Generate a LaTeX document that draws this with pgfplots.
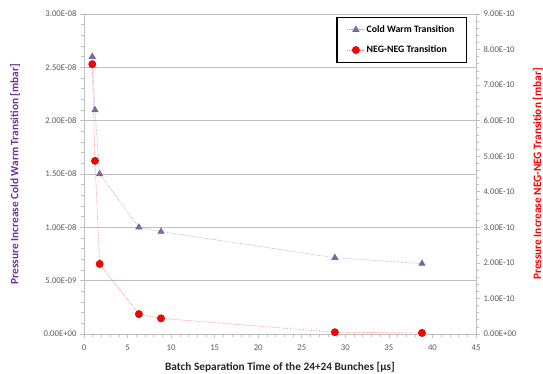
\documentclass[border=0pt]{standalone}
\usepackage{fontspec}
\setmainfont{Carlito}
\usepackage{pgfplots}
\pgfplotsset{compat=1.18}
\definecolor{cwline}{HTML}{A898C8}
\definecolor{cwmark}{HTML}{8064A2}
\definecolor{cwlabel}{HTML}{7030A0}
\definecolor{negline}{HTML}{FF6F6F}
\definecolor{gridgray}{HTML}{BFBFBF}
\definecolor{ticktext}{HTML}{595959}
\begin{document}
\begin{tikzpicture}
\pgfplotsset{
 common/.style={scale only axis, width=392pt, height=320pt, xmin=0, xmax=45, ymin=0,
   tick label style={font=\fontsize{8.7}{10}\selectfont, color=ticktext},
   /pgf/number format/assume math mode=true,
   scaled y ticks=false,
   tick style={gridgray, line width=0.6pt}, major tick length=4pt, minor tick length=3pt,
   tick align=outside, minor y tick num=4,
   axis line style={gridgray, line width=0.8pt}},
}
\begin{axis}[common, axis x line*=bottom, axis y line*=left,
  ymax=3e-8,
  xtick={0,5,...,45}, minor x tick num=4,
  xticklabel style={yshift=-3pt},
  ytick={0,5e-9,1e-8,1.5e-8,2e-8,2.5e-8,3e-8},
  yticklabels={0.00E+00,5.00E-09,1.00E-08,1.50E-08,2.00E-08,2.50E-08,3.00E-08},
  ymajorgrids, major grid style={gridgray, line width=0.6pt},
  xlabel={\bfseries Batch Separation Time of the 24+24 Bunches [µs]},
  xlabel style={at={(axis description cs:0.5,0)}, anchor=center, yshift=-33.7pt, font=\fontsize{11.3}{13}\selectfont, color=black!85},
  ylabel={\bfseries Pressure Increase Cold Warm Transition [mbar]},
  ylabel style={at={(axis description cs:-0.176,0.5)}, anchor=center, font=\fontsize{11.3}{13}\selectfont, color=cwlabel},
  legend style={at={(rel axis cs:0.977,0.991)}, anchor=north east, draw=black, line width=1.2pt,
    font=\bfseries\fontsize{9.8}{11}\selectfont, inner xsep=10pt, inner ysep=6pt, row sep=8pt},
  legend cell align=left,
]
\addplot[color=cwline, densely dotted, line width=0.6pt, mark=triangle*, mark size=3.6pt,
  mark options={solid, fill=cwmark, draw=cwmark}] coordinates {
  (0.95,2.6e-8) (1.26,2.1e-8) (1.8,1.5e-8) (6.3,1.0e-8) (8.84,0.96e-8) (28.8,7.15e-9) (38.8,6.6e-9)};
\addlegendentry{Cold Warm Transition}
\addlegendimage{color=negline, densely dotted, line width=0.6pt, mark=*, mark size=3.6pt,
  mark options={solid, fill=red, draw=red!85!black}}
\addlegendentry{NEG-NEG Transition}
\end{axis}
\begin{axis}[common, axis x line=none, axis y line*=right,
  ymax=9e-10,
  ytick={0,1e-10,2e-10,3e-10,4e-10,5e-10,6e-10,7e-10,8e-10,9e-10},
  yticklabels={0.00E+00,1.00E-10,2.00E-10,3.00E-10,4.00E-10,5.00E-10,6.00E-10,7.00E-10,8.00E-10,9.00E-10},
  ylabel={\bfseries Pressure Increase NEG-NEG Transition [mbar]},
  ylabel style={at={(axis description cs:1.158,0.5)}, anchor=center, rotate=0, font=\fontsize{11.3}{13}\selectfont, color=red},
]
\addplot[color=negline, densely dotted, line width=0.6pt, mark=*, mark size=3.6pt,
  mark options={solid, fill=red, draw=red!85!black}] coordinates {
  (0.95,7.59e-10) (1.26,4.87e-10) (1.8,1.97e-10) (6.3,5.6e-11) (8.84,4.4e-11) (28.8,5e-12) (38.8,3e-12)};
\end{axis}
\pgfresetboundingbox
\path (-84pt,-40pt) rectangle (459pt,334pt);
\end{tikzpicture}
\end{document}
